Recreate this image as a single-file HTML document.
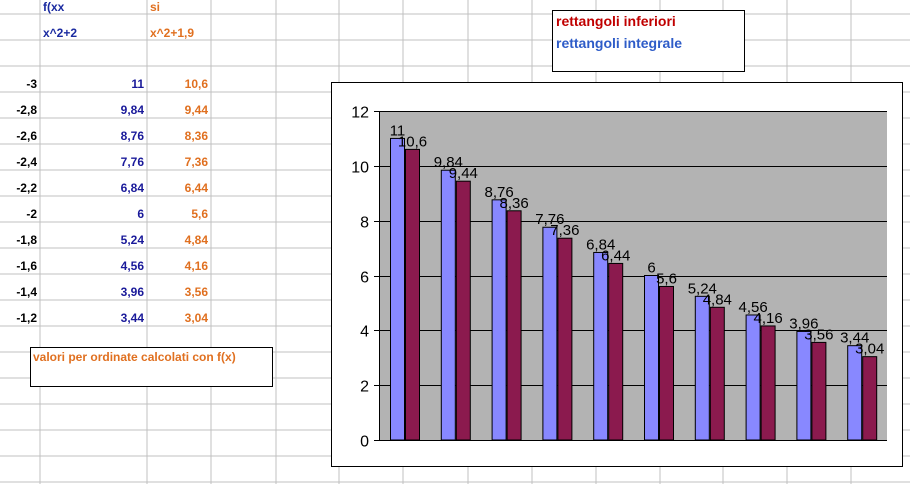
<!DOCTYPE html>
<html><head><meta charset="utf-8"><style>
body{margin:0;width:910px;height:484px;overflow:hidden;background:#fff;font-family:"Liberation Sans",Arial,sans-serif;position:relative}
.c{position:absolute;font-size:12px;font-weight:bold;line-height:14px}
</style></head><body>
<svg id="grid" width="910" height="484" style="position:absolute;left:0;top:0"></svg>
<div id="cells"></div>
<div style="position:absolute;left:552px;top:10px;width:191px;height:60px;border:1px solid #000;background:#fff">
 <div class="c" style="left:3px;top:3px;font-size:14px;color:#c00000">rettangoli inferiori</div>
 <div class="c" style="left:3px;top:25px;font-size:14px;color:#2e5cc8">rettangoli integrale</div>
</div>
<div style="position:absolute;left:30px;top:347px;width:241px;height:38px;border:1px solid #000;background:#fff">
 <div class="c" style="left:2px;top:2px;color:#e07020">valori per ordinate calcolati con f(x)</div>
</div>
<svg id="chart" width="910" height="484" style="position:absolute;left:0;top:0"></svg>
<script>
const xs=["-3","-2,8","-2,6","-2,4","-2,2","-2","-1,8","-1,6","-1,4","-1,2"];
const fx=[11,9.84,8.76,7.76,6.84,6,5.24,4.56,3.96,3.44];
const si=[10.6,9.44,8.36,7.36,6.44,5.6,4.84,4.16,3.56,3.04];
const yTicks=[0,2,4,6,8,10,12];
const NS="http://www.w3.org/2000/svg";
function mk(p,t,a){const e=document.createElementNS(NS,t);for(const k in a)e.setAttribute(k,a[k]);p.appendChild(e);return e;}
const fmt=v=>String(v).replace('.',',');
// grid
const g=document.getElementById('grid');
[40,147,211,276,339,403,468,532,596,660,723,787,851].forEach(x=>{const l=mk(g,'line',{x1:x,y1:0,x2:x,y2:484,stroke:'#c0c0c0'});});
for(let y=14;y<484;y+=26){const l=mk(g,'line',{x1:0,y1:y,x2:910,y2:y,stroke:'#c0c0c0'});}
const cells=document.getElementById('cells');
function cell(txt,x,y,col,right,name){const d=document.createElement('div');d.className='c';d.textContent=txt;d.style.color=col;d.style.top=y+'px';
if(right){d.style.right=(910-x)+'px';}else d.style.left=x+'px';
cells.appendChild(d);}
cell('f(xx',43,0,'#1a2aa0',false,'header-fxx');
cell('si',150,0,'#e07020',false,'header-si');
cell('x^2+2',43,26,'#1a2aa0',false,'formula-fx');
cell('x^2+1,9',150,26,'#e07020',false,'formula-si');
xs.forEach((v,i)=>{const y=77+26*i;
cell(v,37,y,'#000',true,'x-value-cell');
cell(fmt(fx[i]),144,y,'#1a1a9a',true,'fx-value-cell');
cell(fmt(si[i]),208,y,'#e07020',true,'si-value-cell');});
// chart
const s=document.getElementById('chart');
const cb=mk(s,'rect',{x:331.5,y:82.5,width:571,height:384,fill:'#fff',stroke:'#000'});

const L=379,R=887,T=111,B=440,ymax=12;
const Y=v=>B-(B-T)*v/ymax;
const cw=(R-L)/xs.length;
const pa=mk(s,'rect',{x:L,y:T,width:R-L,height:B-T,fill:'#b3b3b3'});

yTicks.forEach(t=>{const y=Math.round(Y(t))+0.5;
if(t>0){const gl=mk(s,'line',{x1:L,y1:y,x2:R,y2:y,stroke:'#000'});}
const tk=mk(s,'line',{x1:L-5,y1:y,x2:L,y2:y,stroke:'#000'});
const tx=mk(s,'text',{x:L-10,y:y+6,'text-anchor':'end','font-size':16,fill:'#000','font-family':'Liberation Sans, sans-serif'});tx.textContent=t;
});
const ax=mk(s,'line',{x1:L+0.5,y1:T,x2:L+0.5,y2:B,stroke:'#000'});
const ax2=mk(s,'line',{x1:L,y1:B+0.5,x2:R,y2:B+0.5,stroke:'#000'});
const bw=15;
xs.forEach((c,i)=>{const x0=L+cw*i+11;
[[fx[i],'#8888ff','bar-fx'],[si[i],'#8b1a4e','bar-si']].forEach(([v,col,nm],j)=>{
const bx=x0+j*bw;const r=mk(s,'rect',{x:bx+0.5,y:Y(v),width:bw-1,height:B-Y(v),fill:col,stroke:'#000'});

const t=mk(s,'text',{x:bx+bw/2,y:Y(v)-3,'text-anchor':'middle','font-size':15,fill:'#000','font-family':'Liberation Sans, sans-serif'});t.textContent=fmt(v);
});});
</script>
</body></html>
